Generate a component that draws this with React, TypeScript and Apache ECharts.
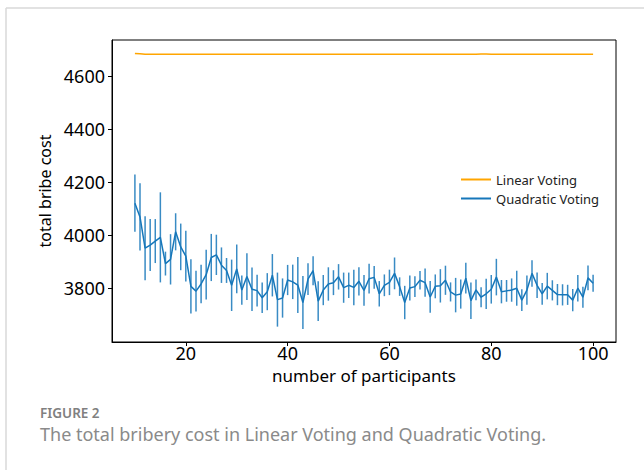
import React, { useEffect, useRef } from "react";
import * as echarts from "echarts";

const participants = [
  10, 11, 12, 13, 14, 15, 16, 17, 18, 19, 20, 21, 22, 23, 24, 25, 26, 27, 28, 29,
  30, 31, 32, 33, 34, 35, 36, 37, 38, 39, 40, 41, 42, 43, 44, 45, 46, 47, 48, 49,
  50, 51, 52, 53, 54, 55, 56, 57, 58, 59, 60, 61, 62, 63, 64, 65, 66, 67, 68, 69,
  70, 71, 72, 73, 74, 75, 76, 77, 78, 79, 80, 81, 82, 83, 84, 85, 86, 87, 88, 89,
  90, 91, 92, 93, 94, 95, 96, 97, 98, 99, 100,
];

const linearCost = [
  4685, 4684, 4682, 4682, 4682, 4682, 4682, 4682, 4682, 4682, 4682, 4682, 4682, 4682, 4682, 4682, 4682, 4682, 4682, 4682,
  4682, 4682, 4682, 4682, 4682, 4682, 4682, 4682, 4682, 4682, 4682, 4682, 4682, 4682, 4682, 4682, 4682, 4682, 4682, 4682,
  4682, 4682, 4682, 4682, 4682, 4682, 4682, 4682, 4682, 4682, 4682, 4682, 4682, 4682, 4682, 4682, 4682, 4682, 4682, 4682,
  4682, 4682, 4682, 4682, 4682, 4682, 4682, 4682, 4683, 4683, 4682, 4682, 4682, 4682, 4682, 4682, 4682, 4682, 4682, 4682,
  4682, 4682, 4682, 4682, 4682, 4682, 4682, 4682, 4682, 4682, 4682,
];

const quadraticCost = [
  4120, 4068, 3950, 3962, 3977, 3991, 3892, 3908, 4012, 3955, 3920, 3806, 3788, 3815, 3850, 3915, 3925, 3886, 3866, 3810,
  3872, 3792, 3843, 3795, 3790, 3763, 3786, 3848, 3756, 3762, 3830, 3823, 3811, 3745, 3833, 3865, 3750, 3792, 3815, 3820,
  3842, 3801, 3810, 3802, 3825, 3791, 3835, 3840, 3778, 3810, 3821, 3855, 3805, 3745, 3800, 3805, 3829, 3820, 3766, 3806,
  3808, 3829, 3785, 3773, 3777, 3837, 3752, 3793, 3765, 3778, 3795, 3841, 3786, 3789, 3792, 3799, 3754, 3792, 3855, 3810,
  3778, 3807, 3791, 3775, 3774, 3774, 3754, 3799, 3765, 3838, 3818,
];

const quadraticErr = [
  108, 127, 121, 98, 83, 170, 45, 95, 70, 88, 96, 102, 77, 73, 94, 89, 76, 67, 47, 97,
  92, 55, 88, 82, 60, 58, 70, 80, 102, 74, 57, 65, 106, 100, 60, 55, 75, 57, 63, 47,
  48, 57, 48, 67, 53, 58, 56, 43, 48, 41, 48, 60, 35, 63, 47, 39, 35, 53, 60, 45,
  63, 55, 36, 65, 55, 58, 69, 39, 38, 57, 54, 69, 44, 41, 44, 66, 41, 55, 50, 48,
  41, 50, 38, 40, 40, 38, 42, 50, 40, 47, 32,
];

const xTicks = [20, 40, 60, 80, 100];
const yTicks = [3800, 4000, 4200, 4400, 4600];

const FONT = "'Noto Sans', sans-serif";
const ORANGE = "#ffa500";
const BLUE = "#1677ba";

export default function App() {
  const ref = useRef<HTMLDivElement>(null);

  useEffect(() => {
    if (!ref.current) return;
    const chart = echarts.init(ref.current, undefined, { renderer: "svg" });

    const lineData = participants.map((n, i) => [n, linearCost[i]]);
    const quadData = participants.map((n, i) => [n, quadraticCost[i]]);
    const errData = participants.map((n, i) => [
      n,
      quadraticCost[i] - quadraticErr[i],
      quadraticCost[i] + quadraticErr[i],
    ]);

    chart.setOption({
      animation: false,
      backgroundColor: "#ffffff",
      grid: {
        left: 112,
        top: 40,
        width: 504,
        height: 302,
        show: true,
        borderColor: "#000",
        borderWidth: 1,
        backgroundColor: "transparent",
      },
      legend: {
        orient: "vertical",
        left: 456,
        top: 168,
        itemWidth: 30,
        itemHeight: 2,
        itemGap: 6,
        icon: "rect",
        textStyle: { fontSize: 13, color: "#222", fontFamily: FONT },
        data: ["Linear Voting", "Quadratic Voting"],
      },
      xAxis: {
        type: "value",
        min: 5.5,
        max: 104.5,
        name: "number of participants",
        nameLocation: "middle",
        nameGap: 25,
        nameTextStyle: { fontSize: 17, color: "#000", fontFamily: FONT },
        axisLine: { show: true, onZero: false, lineStyle: { color: "#000", width: 1 } },
        axisTick: {
          show: true,
          inside: false,
          length: 4,
          customValues: xTicks,
          lineStyle: { color: "#000" },
        },
        axisLabel: {
          customValues: xTicks,
          fontSize: 18,
          color: "#000",
          fontFamily: FONT,
          margin: 2,
          formatter: (v: number) => String(v),
        },
        splitLine: { show: false },
      },
      yAxis: {
        type: "value",
        min: 3596,
        max: 4736,
        name: "total bribe cost",
        nameLocation: "middle",
        nameGap: 56,
        nameRotate: 90,
        nameTextStyle: { fontSize: 16, color: "#000", fontFamily: FONT },
        axisLine: { show: true, onZero: false, lineStyle: { color: "#000", width: 1 } },
        axisTick: {
          show: true,
          inside: false,
          length: 4,
          customValues: yTicks,
          lineStyle: { color: "#000" },
        },
        axisLabel: {
          customValues: yTicks,
          fontSize: 18,
          color: "#000",
          fontFamily: FONT,
          margin: 7,
          formatter: (v: number) => String(v),
        },
        splitLine: { show: false },
      },
      series: [
        {
          name: "Linear Voting",
          type: "line",
          data: lineData,
          symbol: "none",
          color: ORANGE,
          lineStyle: { color: ORANGE, width: 1.5 },
          z: 3,
        },
        {
          name: "Quadratic error",
          type: "custom",
          data: errData,
          encode: { x: 0, y: [1, 2] },
          renderItem: (_params: any, api: any) => {
            const x = api.value(0);
            const p1 = api.coord([x, api.value(1)]);
            const p2 = api.coord([x, api.value(2)]);
            return {
              type: "line",
              shape: { x1: p1[0], y1: p1[1], x2: p2[0], y2: p2[1] },
              style: { stroke: BLUE, lineWidth: 1.5, opacity: 0.85 },
            };
          },
          z: 2,
        },
        {
          name: "Quadratic Voting",
          type: "line",
          data: quadData,
          symbol: "none",
          color: BLUE,
          lineStyle: { color: BLUE, width: 1.5 },
          z: 3,
        },
      ],
      graphic: [
        {
          type: "line",
          shape: { x1: 6, y1: 8, x2: 644, y2: 8 },
          style: { stroke: "#d9d9d9", lineWidth: 1.5 },
        },
        {
          type: "line",
          shape: { x1: 6, y1: 8, x2: 6, y2: 470 },
          style: { stroke: "#d9d9d9", lineWidth: 1.5 },
        },
        {
          type: "text",
          left: 40,
          top: 406,
          style: {
            text: "FIGURE 2",
            fontSize: 13.5,
            fontWeight: 600,
            fill: "#808080",
            fontFamily: FONT,
          },
        },
        {
          type: "text",
          left: 40,
          top: 425,
          style: {
            text: "The total bribery cost in Linear Voting and Quadratic Voting.",
            fontSize: 18,
            fill: "#8a8a8a",
            fontFamily: FONT,
          },
        },
      ],
    });

    return () => chart.dispose();
  }, []);

  return (
    <div
      ref={ref}
      style={{ position: "fixed", left: 0, top: 0, width: 644, height: 470, background: "#fff" }}
    />
  );
}
